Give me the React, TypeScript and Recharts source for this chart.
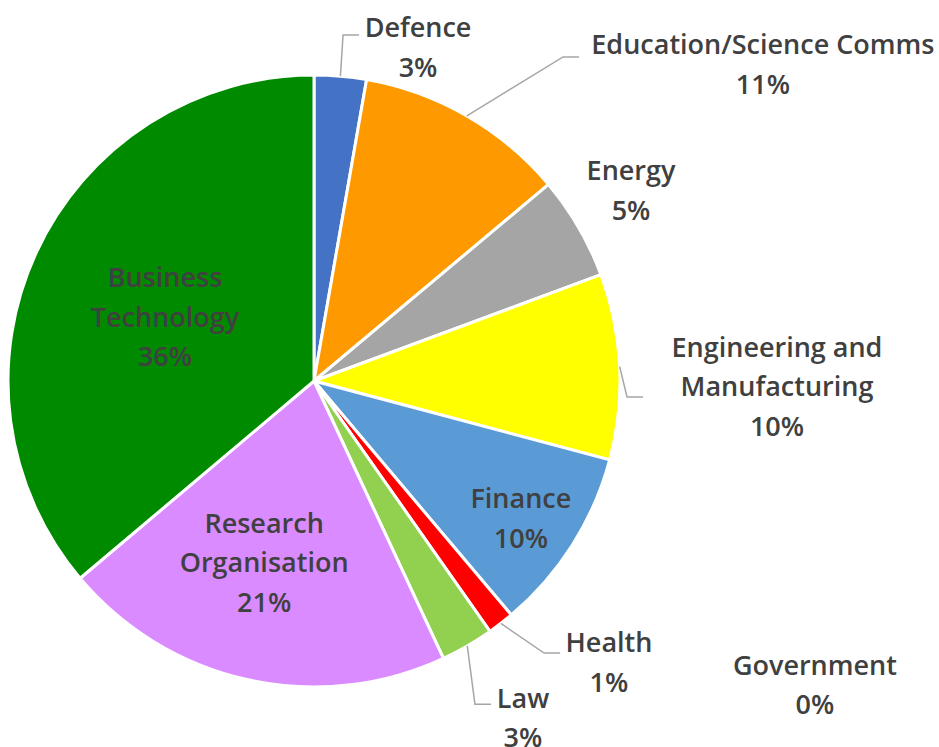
import { PieChart, Pie, Cell } from "recharts";

// Sector shares, clockwise from 12 o'clock (Excel order).
const SECTORS = [
  "Defence",
  "Education/Science Comms",
  "Energy",
  "Engineering and Manufacturing",
  "Finance",
  "Government",
  "Health",
  "Law",
  "Research Organisation",
  "Business Technology",
];
const SHARES = [2.75, 11.15, 5.45, 9.8, 9.7, 0, 1.4, 2.8, 20.8, 36.15];
const COLORS = ["#4472C4", "#FF9900", "#A5A5A5", "#FFFF00", "#5B9BD5", "#264478", "#FF0000", "#92D050", "#DA8BFF", "#008A00"];

// Label placement in units of the pie radius, relative to the pie centre
// (Excel "best fit" positions). `elbow` = bend of the leader line, if any.
type LabelSpot = { dx: number; dy: number; wrap?: boolean; elbow?: [number, number] };
const LABEL_SPOTS: LabelSpot[] = [
  { dx: 0.34, dy: -1.093, elbow: [0.095, -1.131] },
  { dx: 1.467, dy: -1.038, elbow: [0.814, -1.059] },
  { dx: 1.036, dy: -0.626 },
  { dx: 1.513, dy: 0.015, wrap: true, elbow: [1.023, 0.052] },
  { dx: 0.676, dy: 0.446 },
  { dx: 1.637, dy: 0.99 },
  { dx: 0.964, dy: 0.917, elbow: [0.752, 0.889] },
  { dx: 0.683, dy: 1.098, elbow: [0.526, 1.056] },
  { dx: -0.163, dy: 0.59, wrap: true },
  { dx: -0.487, dy: -0.212, wrap: true },
];

const data = SECTORS.map((name, i) => ({ name, value: SHARES[i] }));
const total = SHARES.reduce((a, b) => a + b, 0);

const LINE_H = 39.5;
const RAD = Math.PI / 180;

function splitName(name: string, wrap?: boolean) {
  if (!wrap) return [name];
  const k = name.lastIndexOf(" ");
  return [name.slice(0, k), name.slice(k + 1)];
}

function renderLabel(props: any) {
  const { cx, cy, midAngle, outerRadius, index } = props;
  const spot = LABEL_SPOTS[index];
  const name = SECTORS[index];
  const pct = `${Math.round((SHARES[index] / total) * 100)}%`;
  const lines = [...splitName(name, spot.wrap), pct];
  const lx = cx + spot.dx * outerRadius;
  const ly = cy + spot.dy * outerRadius;

  let leader = null;
  if (spot.elbow) {
    const sx = cx + outerRadius * Math.cos(midAngle * RAD);
    const sy = cy - outerRadius * Math.sin(midAngle * RAD);
    const ex = cx + spot.elbow[0] * outerRadius;
    const ey = cy + spot.elbow[1] * outerRadius;
    leader = (
      <polyline
        points={`${sx},${sy} ${ex},${ey} ${ex + 16},${ey}`}
        fill="none"
        stroke="#A6A6A6"
        strokeWidth={1.5}
      />
    );
  }

  return (
    <g key={`lbl-${index}`}>
      {leader}
      <text
        x={lx}
        y={ly}
        textAnchor="middle"
        fill="#404040"
        style={{ fontFamily: "'Open Sans', 'Noto Sans', sans-serif", fontSize: 27, fontWeight: 600 }}
      >
        {lines.map((t, i) => (
          <tspan key={i} x={lx} y={ly + (i - (lines.length - 1) / 2) * LINE_H} dominantBaseline="central">
            {t}
          </tspan>
        ))}
      </text>
    </g>
  );
}

export default function App() {
  return (
    <div style={{ position: "absolute", left: 0, top: 0, width: 939, height: 747, background: "#fff" }}>
      <PieChart width={939} height={747} margin={{ top: 0, right: 0, bottom: 0, left: 0 }}>
        <Pie
          data={data}
          dataKey="value"
          nameKey="name"
          cx={314}
          cy={381}
          outerRadius={306}
          startAngle={90}
          endAngle={-270}
          stroke="#FFFFFF"
          strokeWidth={3}
          label={renderLabel}
          labelLine={false}
          isAnimationActive={false}
        >
          {data.map((_, i) => (
            <Cell key={i} fill={COLORS[i]} />
          ))}
        </Pie>
      </PieChart>
    </div>
  );
}
